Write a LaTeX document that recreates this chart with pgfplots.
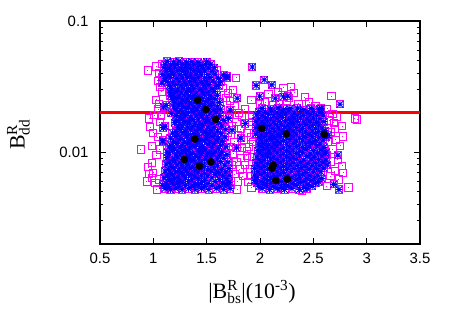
\documentclass[border=0pt]{standalone}
\usepackage{fontspec}
\setmainfont{Liberation Serif}
\newfontfamily\tickfont{Liberation Sans}
\usepackage{pgfplots}
\usepackage{pgfplotstable}
\pgfplotsset{compat=1.18}
\definecolor{gmag}{RGB}{255,0,255}
\definecolor{gblue}{RGB}{0,0,255}
\definecolor{gred}{RGB}{255,0,0}

\pgfdeclareplotmark{gsq}{%
  \pgfpathrectangle{\pgfqpoint{-\pgfplotmarksize}{-\pgfplotmarksize}}{\pgfqpoint{2\pgfplotmarksize}{2\pgfplotmarksize}}%
  \pgfusepathqstroke
  \pgfpathrectangle{\pgfqpoint{-0.45pt}{-0.45pt}}{\pgfqpoint{0.9pt}{0.9pt}}%
  \pgfusepathqfill}
\pgfdeclareplotmark{gstar}{%
  \pgfpathmoveto{\pgfqpoint{-\pgfplotmarksize}{0pt}}\pgfpathlineto{\pgfqpoint{\pgfplotmarksize}{0pt}}%
  \pgfpathmoveto{\pgfqpoint{0pt}{-\pgfplotmarksize}}\pgfpathlineto{\pgfqpoint{0pt}{\pgfplotmarksize}}%
  \pgfpathmoveto{\pgfqpoint{-\pgfplotmarksize}{-\pgfplotmarksize}}\pgfpathlineto{\pgfqpoint{\pgfplotmarksize}{\pgfplotmarksize}}%
  \pgfpathmoveto{\pgfqpoint{-\pgfplotmarksize}{\pgfplotmarksize}}\pgfpathlineto{\pgfqpoint{\pgfplotmarksize}{-\pgfplotmarksize}}%
  \pgfusepathqstroke}

% points that pass both constraints (blue stars, drawn over magenta squares)
\pgfplotstableread[row sep=\\]{
x y\\
1.13 0.0492\\ 1.19 0.0487\\ 1.24 0.0494\\ 1.31 0.0485\\ 1.36 0.0490\\ 1.42 0.0483\\ 1.50 0.0491\\
1.11 0.0468\\ 1.16 0.0460\\ 1.22 0.0466\\ 1.27 0.0471\\ 1.33 0.0462\\ 1.38 0.0467\\ 1.44 0.0459\\ 1.49 0.0466\\ 1.54 0.0470\\
1.10 0.0441\\ 1.15 0.0436\\ 1.20 0.0444\\ 1.26 0.0438\\ 1.30 0.0443\\ 1.35 0.0435\\ 1.41 0.0440\\ 1.46 0.0446\\ 1.52 0.0437\\ 1.57 0.0442\\
1.12 0.0417\\ 1.17 0.0411\\ 1.23 0.0419\\ 1.28 0.0413\\ 1.32 0.0416\\ 1.38 0.0420\\ 1.43 0.0412\\ 1.48 0.0418\\ 1.55 0.0414\\
1.09 0.0392\\ 1.14 0.0387\\ 1.19 0.0394\\ 1.25 0.0389\\ 1.30 0.0391\\ 1.35 0.0386\\ 1.40 0.0393\\ 1.45 0.0388\\ 1.51 0.0390\\ 1.58 0.0395\\ 1.66 0.0387\\
1.11 0.0366\\ 1.16 0.0371\\ 1.22 0.0365\\ 1.27 0.0369\\ 1.32 0.0373\\ 1.37 0.0364\\ 1.42 0.0370\\ 1.48 0.0367\\ 1.53 0.0372\\ 1.61 0.0366\\ 1.69 0.0370\\
1.13 0.0347\\ 1.18 0.0342\\ 1.24 0.0348\\ 1.29 0.0343\\ 1.34 0.0346\\ 1.39 0.0350\\ 1.45 0.0341\\ 1.50 0.0345\\ 1.56 0.0349\\ 1.63 0.0344\\
1.15 0.0323\\ 1.21 0.0328\\ 1.26 0.0321\\ 1.31 0.0326\\ 1.36 0.0322\\ 1.41 0.0327\\ 1.47 0.0324\\ 1.52 0.0329\\ 1.59 0.0322\\
1.17 0.0307\\ 1.23 0.0302\\ 1.28 0.0308\\ 1.33 0.0303\\ 1.38 0.0306\\ 1.44 0.0301\\ 1.49 0.0309\\ 1.55 0.0304\\
1.16 0.0285\\ 1.21 0.0290\\ 1.26 0.0284\\ 1.31 0.0288\\ 1.35 0.0291\\ 1.40 0.0283\\ 1.46 0.0289\\ 1.51 0.0286\\ 1.57 0.0290\\
1.19 0.0272\\ 1.24 0.0267\\ 1.29 0.0273\\ 1.33 0.0268\\ 1.38 0.0271\\ 1.43 0.0266\\ 1.48 0.0274\\ 1.53 0.0269\\ 1.60 0.0271\\
1.18 0.0252\\ 1.22 0.0257\\ 1.27 0.0251\\ 1.32 0.0255\\ 1.36 0.0258\\ 1.41 0.0250\\ 1.46 0.0256\\ 1.52 0.0253\\ 1.57 0.0257\\
1.20 0.0241\\ 1.25 0.0236\\ 1.30 0.0242\\ 1.34 0.0237\\ 1.39 0.0240\\ 1.44 0.0235\\ 1.49 0.0243\\ 1.55 0.0238\\ 1.62 0.0240\\
1.12 0.0227\\ 1.19 0.0222\\ 1.24 0.0228\\ 1.28 0.0223\\ 1.33 0.0226\\ 1.38 0.0221\\ 1.43 0.0229\\ 1.48 0.0224\\ 1.54 0.0227\\ 1.60 0.0222\\
1.21 0.0214\\ 1.26 0.0209\\ 1.31 0.0215\\ 1.36 0.0210\\ 1.41 0.0213\\ 1.46 0.0208\\ 1.51 0.0216\\ 1.57 0.0211\\ 1.63 0.0213\\
1.17 0.0198\\ 1.23 0.0203\\ 1.28 0.0197\\ 1.33 0.0201\\ 1.38 0.0204\\ 1.43 0.0196\\ 1.48 0.0202\\ 1.53 0.0199\\ 1.59 0.0203\\
1.21 0.0190\\ 1.25 0.0186\\ 1.30 0.0191\\ 1.35 0.0185\\ 1.40 0.0189\\ 1.45 0.0192\\ 1.50 0.0184\\ 1.56 0.0188\\ 1.62 0.0190\\
1.22 0.0175\\ 1.27 0.0179\\ 1.32 0.0174\\ 1.37 0.0178\\ 1.42 0.0176\\ 1.47 0.0180\\ 1.52 0.0173\\ 1.58 0.0177\\ 1.66 0.0175\\
1.20 0.0168\\ 1.25 0.0164\\ 1.29 0.0169\\ 1.34 0.0165\\ 1.39 0.0167\\ 1.44 0.0163\\ 1.49 0.0170\\ 1.55 0.0166\\ 1.61 0.0168\\
1.11 0.0158\\ 1.23 0.0154\\ 1.27 0.0159\\ 1.32 0.0155\\ 1.37 0.0157\\ 1.42 0.0153\\ 1.46 0.0160\\ 1.51 0.0156\\ 1.57 0.0154\\ 1.64 0.0158\\
1.21 0.0145\\ 1.25 0.0149\\ 1.30 0.0144\\ 1.35 0.0148\\ 1.40 0.0146\\ 1.44 0.0150\\ 1.49 0.0143\\ 1.54 0.0147\\ 1.60 0.0145\\ 1.68 0.0149\\
1.18 0.0140\\ 1.23 0.0136\\ 1.28 0.0141\\ 1.33 0.0137\\ 1.38 0.0139\\ 1.42 0.0135\\ 1.47 0.0142\\ 1.52 0.0138\\ 1.57 0.0136\\ 1.63 0.0140\\
1.16 0.0128\\ 1.21 0.0132\\ 1.26 0.0127\\ 1.31 0.0131\\ 1.36 0.0129\\ 1.40 0.0133\\ 1.45 0.0126\\ 1.50 0.0130\\ 1.55 0.0132\\ 1.61 0.0128\\ 1.67 0.0131\\
1.09 0.0123\\ 1.19 0.0120\\ 1.24 0.0124\\ 1.29 0.0119\\ 1.34 0.0122\\ 1.38 0.0125\\ 1.43 0.0121\\ 1.48 0.0123\\ 1.53 0.0120\\ 1.59 0.0124\\ 1.65 0.0121\\
1.17 0.0113\\ 1.22 0.0117\\ 1.27 0.0112\\ 1.32 0.0116\\ 1.36 0.0114\\ 1.41 0.0118\\ 1.46 0.0111\\ 1.51 0.0115\\ 1.57 0.0117\\ 1.63 0.0113\\
1.15 0.0110\\ 1.20 0.0106\\ 1.25 0.0109\\ 1.30 0.0105\\ 1.34 0.0108\\ 1.39 0.0111\\ 1.44 0.0107\\ 1.49 0.0104\\ 1.55 0.0109\\ 1.61 0.0106\\ 1.68 0.0110\\
1.13 0.0100\\ 1.18 0.0103\\ 1.23 0.0099\\ 1.28 0.0102\\ 1.33 0.0104\\ 1.37 0.0098\\ 1.42 0.0101\\ 1.47 0.0103\\ 1.52 0.0099\\ 1.58 0.0102\\ 1.64 0.0100\\
1.15 0.0097\\ 1.21 0.0094\\ 1.26 0.0098\\ 1.31 0.0095\\ 1.35 0.0096\\ 1.40 0.0093\\ 1.45 0.0097\\ 1.50 0.0094\\ 1.56 0.0098\\ 1.62 0.0095\\ 1.69 0.0096\\
1.13 0.0091\\ 1.18 0.0088\\ 1.23 0.0092\\ 1.28 0.0089\\ 1.33 0.0090\\ 1.38 0.0087\\ 1.43 0.0091\\ 1.48 0.0088\\ 1.54 0.0092\\ 1.60 0.0089\\ 1.66 0.0090\\
1.15 0.0084\\ 1.20 0.0086\\ 1.25 0.0083\\ 1.30 0.0085\\ 1.35 0.0087\\ 1.40 0.0082\\ 1.45 0.0084\\ 1.51 0.0086\\ 1.57 0.0083\\ 1.63 0.0085\\ 1.70 0.0084\\
1.12 0.0081\\ 1.17 0.0078\\ 1.22 0.0080\\ 1.27 0.0079\\ 1.32 0.0081\\ 1.37 0.0077\\ 1.42 0.0080\\ 1.48 0.0078\\ 1.54 0.0081\\ 1.60 0.0079\\ 1.67 0.0080\\
1.14 0.0074\\ 1.19 0.0076\\ 1.24 0.0073\\ 1.29 0.0075\\ 1.34 0.0076\\ 1.39 0.0072\\ 1.45 0.0075\\ 1.51 0.0073\\ 1.57 0.0076\\ 1.64 0.0074\\ 1.71 0.0075\\
1.11 0.0072\\ 1.16 0.0069\\ 1.21 0.0071\\ 1.26 0.0070\\ 1.31 0.0072\\ 1.36 0.0068\\ 1.42 0.0071\\ 1.48 0.0069\\ 1.54 0.0072\\ 1.61 0.0070\\ 1.68 0.0071\\
1.13 0.0066\\ 1.18 0.0068\\ 1.23 0.0065\\ 1.28 0.0067\\ 1.33 0.0068\\ 1.39 0.0065\\ 1.45 0.0067\\ 1.51 0.0066\\ 1.58 0.0068\\ 1.65 0.0066\\ 1.71 0.0067\\
1.10 0.0064\\ 1.15 0.0062\\ 1.20 0.0063\\ 1.25 0.0061\\ 1.30 0.0064\\ 1.36 0.0062\\ 1.42 0.0063\\ 1.48 0.0061\\ 1.55 0.0064\\ 1.62 0.0062\\ 1.69 0.0063\\
1.12 0.0058\\ 1.17 0.0060\\ 1.22 0.0058\\ 1.27 0.0059\\ 1.33 0.0060\\ 1.39 0.0057\\ 1.45 0.0059\\ 1.51 0.0058\\ 1.58 0.0060\\ 1.65 0.0058\\ 1.71 0.0059\\
1.09 0.0056\\ 1.14 0.0055\\ 1.19 0.0057\\ 1.24 0.0055\\ 1.30 0.0056\\ 1.36 0.0055\\ 1.42 0.0057\\ 1.48 0.0055\\ 1.55 0.0056\\ 1.62 0.0055\\ 1.69 0.0057\\
1.11 0.0053\\ 1.16 0.0052\\ 1.21 0.0053\\ 1.27 0.0052\\ 1.33 0.0053\\ 1.39 0.0052\\ 1.45 0.0053\\ 1.52 0.0052\\ 1.59 0.0053\\ 1.66 0.0052\\ 1.72 0.0053\\
2.02 0.0216\\ 2.10 0.0213\\ 2.17 0.0218\\ 2.22 0.0212\\ 2.28 0.0215\\ 2.35 0.0217\\ 2.41 0.0211\\ 2.48 0.0216\\ 2.56 0.0214\\
1.99 0.0204\\ 2.05 0.0201\\ 2.11 0.0206\\ 2.16 0.0200\\ 2.21 0.0203\\ 2.27 0.0207\\ 2.32 0.0199\\ 2.38 0.0204\\ 2.44 0.0202\\ 2.50 0.0205\\ 2.57 0.0201\\
1.97 0.0193\\ 2.02 0.0190\\ 2.08 0.0194\\ 2.13 0.0189\\ 2.19 0.0192\\ 2.24 0.0195\\ 2.30 0.0188\\ 2.35 0.0193\\ 2.41 0.0191\\ 2.47 0.0194\\ 2.53 0.0190\\ 2.59 0.0192\\
1.99 0.0180\\ 2.05 0.0183\\ 2.10 0.0179\\ 2.16 0.0182\\ 2.21 0.0184\\ 2.27 0.0178\\ 2.32 0.0181\\ 2.38 0.0183\\ 2.44 0.0179\\ 2.50 0.0182\\ 2.56 0.0180\\
1.96 0.0172\\ 2.02 0.0169\\ 2.07 0.0173\\ 2.13 0.0170\\ 2.18 0.0171\\ 2.24 0.0174\\ 2.29 0.0168\\ 2.35 0.0172\\ 2.41 0.0170\\ 2.47 0.0173\\ 2.53 0.0169\\ 2.60 0.0171\\
1.98 0.0161\\ 2.04 0.0164\\ 2.09 0.0160\\ 2.15 0.0163\\ 2.20 0.0162\\ 2.26 0.0159\\ 2.31 0.0164\\ 2.37 0.0161\\ 2.43 0.0163\\ 2.49 0.0160\\ 2.55 0.0162\\
1.96 0.0154\\ 2.01 0.0151\\ 2.06 0.0155\\ 2.12 0.0152\\ 2.17 0.0153\\ 2.23 0.0156\\ 2.28 0.0150\\ 2.34 0.0154\\ 2.40 0.0152\\ 2.46 0.0155\\ 2.52 0.0151\\ 2.58 0.0153\\
1.98 0.0144\\ 2.03 0.0146\\ 2.09 0.0143\\ 2.14 0.0145\\ 2.20 0.0147\\ 2.25 0.0142\\ 2.31 0.0145\\ 2.37 0.0146\\ 2.43 0.0143\\ 2.49 0.0145\\ 2.55 0.0144\\ 2.61 0.0146\\
1.96 0.0138\\ 2.01 0.0136\\ 2.06 0.0139\\ 2.11 0.0135\\ 2.17 0.0137\\ 2.22 0.0139\\ 2.28 0.0136\\ 2.34 0.0138\\ 2.40 0.0135\\ 2.46 0.0137\\ 2.52 0.0139\\ 2.58 0.0136\\
1.99 0.0129\\ 2.04 0.0131\\ 2.09 0.0128\\ 2.14 0.0130\\ 2.19 0.0132\\ 2.25 0.0129\\ 2.31 0.0131\\ 2.37 0.0128\\ 2.43 0.0130\\ 2.49 0.0132\\ 2.55 0.0129\\ 2.62 0.0130\\
2.01 0.0124\\ 2.06 0.0122\\ 2.11 0.0125\\ 2.16 0.0121\\ 2.22 0.0123\\ 2.28 0.0125\\ 2.34 0.0122\\ 2.40 0.0124\\ 2.46 0.0121\\ 2.52 0.0123\\ 2.59 0.0124\\
1.99 0.0115\\ 2.03 0.0117\\ 2.08 0.0114\\ 2.13 0.0116\\ 2.19 0.0118\\ 2.25 0.0115\\ 2.31 0.0117\\ 2.37 0.0114\\ 2.43 0.0116\\ 2.49 0.0118\\ 2.56 0.0115\\
2.01 0.0111\\ 2.06 0.0109\\ 2.11 0.0110\\ 2.16 0.0112\\ 2.22 0.0108\\ 2.28 0.0110\\ 2.34 0.0111\\ 2.40 0.0109\\ 2.46 0.0110\\ 2.53 0.0112\\ 2.60 0.0109\\
1.98 0.0103\\ 2.03 0.0105\\ 2.08 0.0102\\ 2.13 0.0104\\ 2.19 0.0105\\ 2.25 0.0103\\ 2.31 0.0104\\ 2.37 0.0102\\ 2.43 0.0105\\ 2.50 0.0103\\ 2.57 0.0104\\
2.00 0.0099\\ 2.05 0.0097\\ 2.10 0.0098\\ 2.16 0.0100\\ 2.22 0.0097\\ 2.28 0.0099\\ 2.34 0.0098\\ 2.40 0.0100\\ 2.47 0.0097\\ 2.54 0.0099\\ 2.61 0.0098\\
1.97 0.0092\\ 2.02 0.0094\\ 2.07 0.0093\\ 2.13 0.0092\\ 2.19 0.0094\\ 2.25 0.0093\\ 2.31 0.0092\\ 2.37 0.0094\\ 2.44 0.0093\\ 2.51 0.0092\\ 2.58 0.0094\\
1.99 0.0088\\ 2.04 0.0087\\ 2.10 0.0089\\ 2.16 0.0088\\ 2.22 0.0087\\ 2.28 0.0089\\ 2.34 0.0088\\ 2.41 0.0087\\ 2.48 0.0089\\ 2.55 0.0088\\ 2.62 0.0087\\
1.96 0.0083\\ 2.01 0.0084\\ 2.07 0.0082\\ 2.13 0.0083\\ 2.19 0.0084\\ 2.25 0.0082\\ 2.31 0.0083\\ 2.38 0.0084\\ 2.45 0.0082\\ 2.52 0.0083\\ 2.59 0.0084\\
1.98 0.0079\\ 2.04 0.0078\\ 2.10 0.0080\\ 2.16 0.0079\\ 2.22 0.0078\\ 2.28 0.0080\\ 2.35 0.0079\\ 2.42 0.0078\\ 2.49 0.0080\\ 2.56 0.0079\\
1.95 0.0075\\ 2.01 0.0076\\ 2.07 0.0074\\ 2.13 0.0075\\ 2.19 0.0076\\ 2.25 0.0074\\ 2.32 0.0075\\ 2.39 0.0076\\ 2.46 0.0074\\ 2.53 0.0075\\ 2.60 0.0076\\
1.98 0.0071\\ 2.04 0.0070\\ 2.10 0.0072\\ 2.16 0.0071\\ 2.22 0.0070\\ 2.29 0.0072\\ 2.36 0.0071\\ 2.43 0.0070\\ 2.50 0.0072\\ 2.57 0.0071\\
1.95 0.0067\\ 2.01 0.0068\\ 2.07 0.0066\\ 2.13 0.0067\\ 2.19 0.0068\\ 2.26 0.0066\\ 2.33 0.0067\\ 2.40 0.0068\\ 2.47 0.0066\\ 2.54 0.0067\\
1.97 0.0064\\ 2.04 0.0063\\ 2.10 0.0064\\ 2.16 0.0065\\ 2.23 0.0063\\ 2.30 0.0064\\ 2.37 0.0065\\ 2.44 0.0063\\ 2.51 0.0064\\ 2.58 0.0063\\
1.95 0.0061\\ 2.01 0.0060\\ 2.07 0.0061\\ 2.13 0.0062\\ 2.20 0.0060\\ 2.27 0.0061\\ 2.34 0.0062\\ 2.41 0.0060\\ 2.48 0.0061\\ 2.55 0.0060\\
1.97 0.0058\\ 2.04 0.0057\\ 2.10 0.0058\\ 2.17 0.0059\\ 2.24 0.0057\\ 2.31 0.0058\\ 2.38 0.0059\\ 2.45 0.0057\\ 2.52 0.0058\\
1.99 0.0055\\ 2.06 0.0056\\ 2.13 0.0055\\ 2.20 0.0054\\ 2.27 0.0055\\ 2.34 0.0056\\ 2.41 0.0054\\ 2.49 0.0055\\
2.02 0.0053\\ 2.09 0.0052\\ 2.16 0.0053\\ 2.23 0.0052\\ 2.30 0.0053\\ 2.37 0.0052\\ 2.44 0.0053\\
1.928 0.0446\\ 1.963 0.0323\\ 2.04 0.0357\\ 2.11 0.0326\\ 1.997 0.0267\\ 2.75 0.0232\\ 2.575 0.0216\\ 2.143 0.0258\\
1.787 0.0258\\ 1.706 0.0181\\ 1.862 0.0166\\ 1.78 0.0108\\ 2.73 0.0095\\ 2.69 0.0057\\ 2.74 0.0052\\ 1.094 0.0154\\
1.088 0.0120\\ 1.08 0.0337\\ 1.61 0.0322\\ 1.69 0.0379\\ 1.16 0.0269\\ 1.097 0.0222\\ 1.597 0.0070\\ 2.22 0.0265\\
2.26 0.0268\\ 2.63 0.0080\\ 2.62 0.0100\\ 2.64 0.0135\\ 1.82 0.0128\\ 1.74 0.0148\\ 1.72 0.0210\\
}\starpts

% points that pass only the first constraint (magenta squares)
\pgfplotstableread[row sep=\\]{
x y\\
0.947 0.0420\\ 1.056 0.0400\\ 1.03 0.0450\\ 1.08 0.0470\\ 0.881 0.0105\\ 0.938 0.0060\\ 0.953 0.0077\\ 0.985 0.0083\\
1.00 0.0070\\ 1.031 0.0052\\ 0.962 0.0181\\ 1.00 0.0141\\ 0.985 0.0112\\ 1.047 0.0212\\ 1.025 0.0252\\ 0.96 0.0068\\
0.99 0.0064\\ 1.02 0.0058\\ 1.05 0.0062\\ 1.03 0.0095\\ 1.06 0.0105\\ 1.04 0.0130\\ 0.97 0.0155\\ 1.06 0.0170\\
1.01 0.0192\\ 1.07 0.0190\\ 1.05 0.0235\\ 1.08 0.0290\\ 1.06 0.0315\\ 1.04 0.0350\\ 1.08 0.0375\\
1.775 0.0369\\ 1.856 0.0212\\ 1.75 0.0300\\ 1.937 0.0119\\ 1.875 0.0094\\ 1.81 0.0074\\ 1.787 0.0052\\ 1.89 0.0059\\
1.72 0.0245\\ 1.76 0.0225\\ 1.80 0.0200\\ 1.83 0.0185\\ 1.78 0.0170\\ 1.74 0.0158\\ 1.82 0.0150\\ 1.88 0.0140\\
1.79 0.0135\\ 1.85 0.0125\\ 1.76 0.0120\\ 1.90 0.0110\\ 1.83 0.0108\\ 1.75 0.0098\\ 1.82 0.0090\\ 1.78 0.0084\\
1.86 0.0080\\ 1.91 0.0075\\ 1.76 0.0068\\ 1.84 0.0066\\ 1.79 0.0060\\ 1.73 0.0056\\ 1.92 0.0066\\ 1.88 0.0102\\
1.92 0.0130\\ 1.90 0.0160\\ 1.70 0.0285\\ 1.65 0.0310\\ 1.68 0.0260\\ 1.72 0.0195\\ 1.70 0.0140\\ 1.73 0.0110\\
1.74 0.0080\\ 1.70 0.0062\\ 1.64 0.0370\\ 1.60 0.0420\\
2.29 0.0314\\ 2.42 0.0262\\ 2.67 0.0267\\ 2.89 0.0181\\ 2.91 0.0178\\ 2.77 0.0158\\ 2.775 0.0132\\ 2.75 0.0112\\
2.78 0.0070\\ 2.83 0.0054\\ 2.77 0.0079\\ 2.69 0.0168\\ 2.66 0.0143\\ 2.625 0.0055\\ 2.39 0.0051\\ 2.27 0.0260\\
2.22 0.0310\\ 2.32 0.0285\\ 2.25 0.0245\\ 2.36 0.0235\\ 2.46 0.0240\\ 2.52 0.0225\\ 2.63 0.0215\\ 2.68 0.0195\\
2.72 0.0185\\ 2.65 0.0175\\ 2.71 0.0125\\ 2.68 0.0105\\ 2.73 0.0088\\ 2.66 0.0085\\ 2.70 0.0072\\ 2.66 0.0066\\
2.74 0.0062\\ 2.63 0.0095\\ 2.64 0.0120\\ 2.70 0.0150\\ 1.92 0.0250\\ 2.05 0.0240\\ 2.12 0.0228\\ 2.18 0.0235\\
2.00 0.0235\\ 1.93 0.0190\\ 1.93 0.0170\\ 1.93 0.0092\\ 1.92 0.0054\\ 2.08 0.0280\\ 2.17 0.0290\\
}\sqpts

% benchmark points (black dots)
\pgfplotstableread[row sep=\\]{
x y\\
1.416 0.0249\\ 1.494 0.0212\\ 1.585 0.0178\\ 1.390 0.0126\\ 1.290 0.00881\\ 1.431 0.00783\\ 1.540 0.00845\\
2.016 0.0152\\ 2.247 0.0138\\ 2.603 0.0137\\ 2.125 0.00797\\ 2.112 0.00757\\ 2.147 0.00610\\ 2.256 0.00624\\
}\dotpts

\begin{document}
\begin{tikzpicture}
\useasboundingbox (-100bp,-71bp) rectangle (350bp,244bp);
\begin{axis}[
  at={(0,0)}, anchor=south west,
  scale only axis, width=320bp, height=223bp,
  xmin=0.5, xmax=3.5,
  ymode=log, ymin=0.002, ymax=0.1,
  xtick={0.5,1,1.5,2,2.5,3,3.5},
  xticklabels={0.5,1,1.5,2,2.5,3,3.5},
  ytick={0.01,0.1}, yticklabels={0.01,0.1},
  minor ytick={0.003,0.004,0.005,0.006,0.007,0.008,0.009,0.02,0.03,0.04,0.05,0.06,0.07,0.08,0.09},
  tick align=inside,
  major tick length=6bp, minor tick length=3.5bp,
  tick style={black, line width=1bp},
  axis line style={line width=1.5bp},
  ticklabel style={font=\tickfont\fontsize{15}{17}\selectfont},
  xticklabel style={yshift=-6bp},
  yticklabel style={xshift=-8bp},
  xlabel={|B$^{\mathrm{R}}_{\mathrm{bs}}$|(10\textsuperscript{-3})},
  ylabel={B$^{\mathrm{R}}_{\mathrm{dd}}$},
  label style={font=\fontsize{22}{24}\selectfont},
  xlabel style={at={(axis description cs:0.475,-0.215)}, anchor=center},
  ylabel style={at={(axis description cs:-0.255,0.49)}, anchor=center},
]
\addplot[only marks, mark=gsq, mark size=3.6pt, mark options={draw=gmag, fill=gmag, line width=0.9bp}] table {\sqpts};
\addplot[only marks, mark=gsq, mark size=3.6pt, mark options={draw=gmag, fill=gmag, line width=0.9bp}] table {\starpts};
\addplot[only marks, mark=gstar, mark size=3.4pt, mark options={draw=gblue, line width=0.9bp}] table {\starpts};
\addplot[only marks, mark=*, mark size=3.6pt, mark options={draw=black, fill=black}] table {\dotpts};
\addplot[gred, line width=3bp] coordinates {(0.5,0.02) (3.5,0.02)};
\end{axis}
\end{tikzpicture}
\end{document}
